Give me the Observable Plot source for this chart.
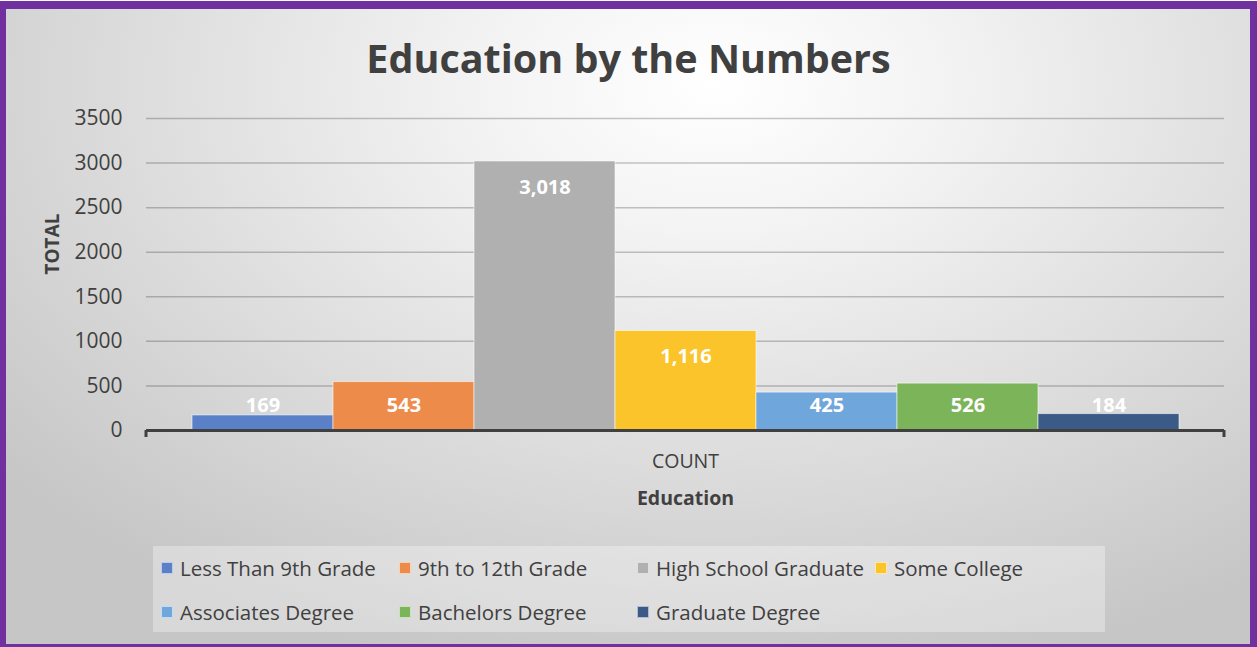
<!DOCTYPE html>
<html>
<head>
<meta charset="utf-8">
<script src="https://cdn.jsdelivr.net/npm/d3@7"></script>
<script src="https://cdn.jsdelivr.net/npm/@observablehq/plot@0.6"></script>
<style>
  html, body { margin: 0; padding: 0; width: 1257px; height: 647px; overflow: hidden; background: #fff; }
  #frame {
    position: absolute; left: 0; top: 1px; width: 1257px; height: 646px; box-sizing: border-box;
    border-style: solid; border-color: #7030A0; border-width: 8px 7px 3px 6px;
    background: radial-gradient(ellipse 75% 95% at 57% 12%, #ffffff 0%, #f3f3f3 25%, #dedede 60%, #c6c6c6 100%);
  }
  #title {
    position: absolute; left: 0; top: 30px; width: 1257px; text-align: center;
    font-family: "Open Sans", sans-serif; font-weight: 700; font-size: 39.5px; color: #404040; line-height: 56px;
  }
  #chart { position: absolute; left: 0; top: 100px; }
  #legend {
    position: absolute; left: 153px; top: 546px; width: 952px; height: 86px;
    background: rgba(255,255,255,0.32);
    font-family: "Open Sans", sans-serif; font-size: 20.5px; color: #404040;
  }
  .item { position: absolute; display: flex; align-items: center; white-space: nowrap; }
  .sw { width: 12px; height: 12px; margin-right: 7px; box-sizing: border-box; border: 1px solid rgba(255,255,255,0.6); }
</style>
</head>
<body>
<div id="frame"></div>
<div id="title">Education by the Numbers</div>
<div id="chart"></div>
<div id="legend"></div>
<script>
const categories = ["Less Than 9th Grade", "9th to 12th Grade", "High School Graduate", "Some College", "Associates Degree", "Bachelors Degree", "Graduate Degree"];
const values = [169, 543, 3018, 1116, 425, 526, 184];
const colors = ["#5a80c8", "#ed8b4a", "#b0b0b0", "#fbc42a", "#6fa6dc", "#7cb45a", "#3c5a88"];
const yTicks = [0, 500, 1000, 1500, 2000, 2500, 3000, 3500];
const xCategory = ["COUNT"];
const xTitle = "Education";
const yTitle = "TOTAL";

const data = categories.map((c, i) => ({category: c, value: values[i]}));
const fmt = d3.format(",");
const font = "Open Sans, sans-serif";

const edgeTicks = (index, scales, values, dims) => {
  const g = d3.create("svg:g");
  const y0 = dims.height - dims.marginBottom;
  [dims.marginLeft, dims.width - dims.marginRight].forEach(x => {
    g.append("line").attr("x1", x).attr("x2", x).attr("y1", y0).attr("y2", y0 + 7)
      .attr("stroke", "#404040").attr("stroke-width", 3);
  });
  return g.node();
};

const plot = Plot.plot({
  width: 1257,
  height: 420,
  marginLeft: 146,
  marginRight: 33,
  marginTop: 18,
  marginBottom: 90,
  style: {background: "transparent", fontFamily: font, overflow: "visible"},
  x: {domain: categories, paddingInner: 0, paddingOuter: 0.319, axis: null},
  y: {domain: [0, 3500], axis: null},
  color: {domain: categories, range: colors},
  marks: [
    Plot.gridY(yTicks, {stroke: "#000", strokeOpacity: 0.22, strokeWidth: 1.5}),
    Plot.axisY(yTicks, {tickSize: 0, tickPadding: 24, fontSize: 21, fill: "#404040", label: null, tickFormat: d => String(d)}),
    Plot.barY(data, {x: "category", y: "value", fill: "category", stroke: "#ffffff", strokeOpacity: 0.55, strokeWidth: 1}),
    Plot.ruleY([0], {stroke: "#404040", strokeWidth: 3}),
    edgeTicks,
    Plot.text(data, {x: "category", y: d => Math.max(d.value, 575), dy: 26, text: d => fmt(d.value),
      fill: "#ffffff", fontSize: 20, fontWeight: 700}),
    Plot.text(xCategory, {frameAnchor: "bottom", dy: 37, text: d => d, fontSize: 19.5, fill: "#404040"}),
    Plot.text([xTitle], {frameAnchor: "bottom", dy: 74, text: d => d, fontSize: 19.5, fontWeight: 700, fill: "#404040"}),
    Plot.text([yTitle], {frameAnchor: "left", dx: -94, rotate: -90, text: d => d, fontSize: 19, fontWeight: 700, fill: "#404040"})
  ]
});
document.getElementById("chart").appendChild(plot);

const legend = d3.select("#legend");
categories.forEach((c, i) => {
  const row = Math.floor(i / 4), col = i % 4;
  const item = legend.append("div").attr("class", "item")
    .style("left", (8 + col * 238) + "px")
    .style("top", (row === 0 ? 8 : 52) + "px")
    .style("height", "28px");
  item.append("div").attr("class", "sw").style("background", colors[i]);
  item.append("span").text(c);
});
</script>
</body>
</html>
